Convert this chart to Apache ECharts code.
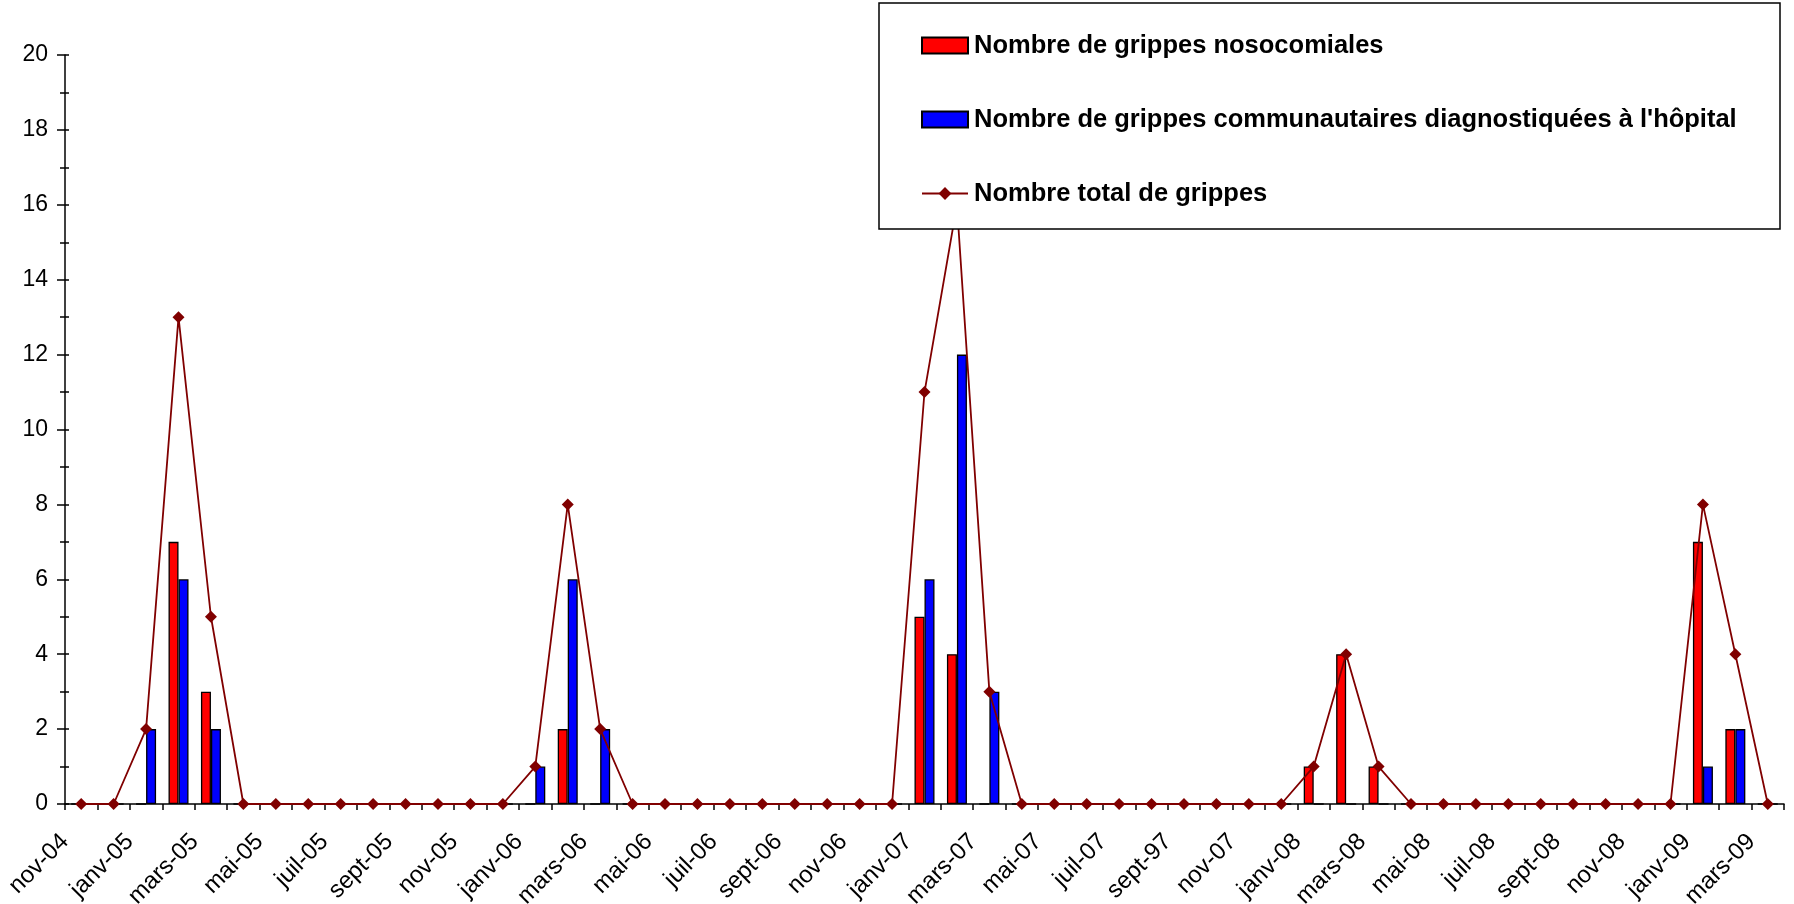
<!DOCTYPE html>
<html>
<head>
<meta charset="utf-8">
<script src="https://cdn.jsdelivr.net/npm/echarts@6/dist/echarts.min.js"></script>
<style>
html,body{margin:0;padding:0;background:#fff;}
#chart{width:1794px;height:904px;}
</style>
</head>
<body>
<div id="chart"></div>
<script>
// Categories (monthly, nov-04 .. mars-09) — label typo "sept-97" kept as in the source
const months = [
  'nov-04','déc-04','janv-05','févr-05','mars-05','avr-05','mai-05','juin-05','juil-05','août-05','sept-05','oct-05',
  'nov-05','déc-05','janv-06','févr-06','mars-06','avr-06','mai-06','juin-06','juil-06','août-06','sept-06','oct-06',
  'nov-06','déc-06','janv-07','févr-07','mars-07','avr-07','mai-07','juin-07','juil-07','août-07','sept-97','oct-07',
  'nov-07','déc-07','janv-08','févr-08','mars-08','avr-08','mai-08','juin-08','juil-08','août-08','sept-08','oct-08',
  'nov-08','déc-08','janv-09','févr-09','mars-09'
];
// Nombre de grippes nosocomiales
const nosocomiales = [
  0,0,0,7,3,0,0,0,0,0,0,0,
  0,0,0,2,0,0,0,0,0,0,0,0,
  0,0,5,4,0,0,0,0,0,0,0,0,
  0,0,1,4,1,0,0,0,0,0,0,0,
  0,0,7,2,0
];
// Nombre de grippes communautaires diagnostiquées à l'hôpital
const communautaires = [
  0,0,2,6,2,0,0,0,0,0,0,0,
  0,0,1,6,2,0,0,0,0,0,0,0,
  0,0,6,12,3,0,0,0,0,0,0,0,
  0,0,0,0,0,0,0,0,0,0,0,0,
  0,0,1,2,0
];
// Nombre total de grippes
const total = [
  0,0,2,13,5,0,0,0,0,0,0,0,
  0,0,1,8,2,0,0,0,0,0,0,0,
  0,0,11,16,3,0,0,0,0,0,0,0,
  0,0,1,4,1,0,0,0,0,0,0,0,
  0,0,8,4,0
];
// Tick labels sit on the band boundaries (one extra slot for the right edge)
const tickLabels = months.concat(['']);
const yTicks = { min: 0, max: 20, interval: 2 };

const FONT = '"Liberation Sans", Arial, sans-serif';
const chart = echarts.init(document.getElementById('chart'), null, { renderer: 'canvas' });

chart.setOption({
  animation: false,
  backgroundColor: '#fff',
  textStyle: { fontFamily: FONT },
  grid: { left: 65, right: 10, top: 55, bottom: 100, containLabel: false, outerBoundsMode: 'none' },
  graphic: [{
    type: 'rect', z: 50,
    shape: { x: 879, y: 3, width: 901, height: 226 },
    style: { fill: '#fff', stroke: '#000', lineWidth: 1.5 }
  }],
  legend: {
    z: 60,
    orient: 'vertical',
    left: 921, top: 31.5,
    padding: 0,
    itemWidth: 46, itemHeight: 16,
    itemGap: 46,
    textStyle: { fontFamily: FONT, fontWeight: 'bold', fontSize: 25.5, color: '#000', lineHeight: 28, padding: [0,0,0,1] },
    data: [{ name: 'Nombre de grippes nosocomiales', icon: 'rect' },
           { name: "Nombre de grippes communautaires diagnostiquées à l'hôpital", icon: 'rect' },
           { name: 'Nombre total de grippes' }]
  },
  xAxis: [{
    type: 'category', data: months, boundaryGap: true,
    axisLine: { lineStyle: { color: '#000', width: 1.5 } },
    axisTick: { show: true, interval: 0, length: 6, lineStyle: { color: '#000', width: 1.5 } },
    axisLabel: { show: false },
    splitLine: { show: false }
  }, {
    type: 'category', data: tickLabels, boundaryGap: false, position: 'bottom',
    axisLine: { show: false }, axisTick: { show: false }, splitLine: { show: false },
    axisLabel: { interval: 1, rotate: 45, margin: 34, fontSize: 24, color: '#000', fontFamily: FONT }
  }],
  yAxis: [{
    type: 'value', min: yTicks.min, max: yTicks.max, interval: yTicks.interval,
    axisLine: { show: true, lineStyle: { color: '#000', width: 1.5 } },
    axisTick: { show: true, length: 8, lineStyle: { color: '#000', width: 1.5 } },
    minorTick: { show: true, splitNumber: 2, length: 5, lineStyle: { color: '#000', width: 1.5 } },
    axisLabel: { margin: 17, fontSize: 23, color: '#000', fontFamily: FONT },
    splitLine: { show: false }
  }, {
    type: 'value', min: yTicks.min, max: yTicks.max, interval: yTicks.interval, position: 'left',
    axisLine: { show: false },
    axisTick: { show: true, inside: true, length: 4, lineStyle: { color: '#000', width: 1.5 } },
    minorTick: { show: true, splitNumber: 2, length: 4, lineStyle: { color: '#000', width: 1.5 } },
    axisLabel: { show: false }, splitLine: { show: false }
  }],
  series: [{
    name: 'Nombre de grippes nosocomiales', type: 'bar', data: nosocomiales,
    barWidth: 10, barGap: '0%',
    itemStyle: { color: '#ff0000', borderColor: '#000', borderWidth: 1.3 }
  }, {
    name: "Nombre de grippes communautaires diagnostiquées à l'hôpital", type: 'bar', data: communautaires,
    barWidth: 10, barGap: '0%',
    itemStyle: { color: '#0000ff', borderColor: '#000', borderWidth: 1.3 }
  }, {
    name: 'Nombre total de grippes', type: 'line', data: total,
    symbol: 'diamond', symbolSize: 12,
    lineStyle: { color: '#800000', width: 1.8 },
    itemStyle: { color: '#800000' }
  }]
});
</script>
</body>
</html>
